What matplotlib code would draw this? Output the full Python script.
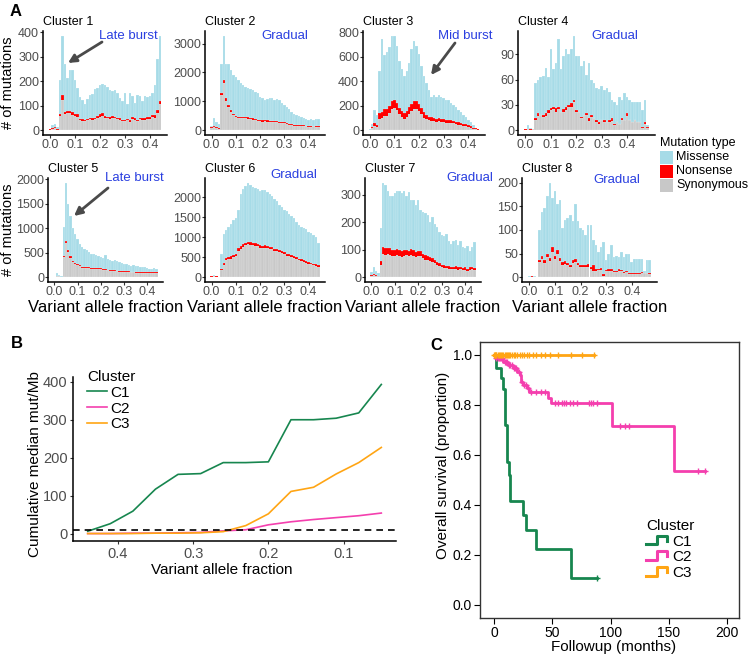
import numpy as np
import matplotlib
matplotlib.use("Agg")
import matplotlib.pyplot as plt
from matplotlib.lines import Line2D
from matplotlib.patches import Rectangle
from matplotlib.legend_handler import HandlerBase

plt.rcParams['font.family'] = ['Liberation Sans', 'DejaVu Sans']

# --- PANEL A: VAF histograms (bins of 0.01), total / synonymous / nonsense ---
tot1 = [5, 20, 25, 15, 206, 383, 271, 214, 247, 244, 206, 174, 136, 122, 109, 129, 142, 149, 170, 174,
        183, 190, 186, 176, 165, 160, 165, 150, 130, 118, 150, 105, 150, 140, 110, 145, 140, 120, 140, 135,
        140, 150, 185, 290, 385]
syn1 = [2, 5, 8, 3, 60, 125, 65, 70, 72, 62, 58, 55, 40, 38, 36, 40, 45, 42, 44, 50,
        55, 60, 52, 48, 46, 50, 48, 44, 40, 36, 38, 40, 35, 46, 42, 36, 44, 40, 42, 45,
        46, 55, 52, 72, 105]
non1 = [3, 4, 4, 2, 6, 18, 8, 10, 8, 12, 10, 10, 6, 8, 6, 4, 6, 8, 6, 8,
        10, 10, 8, 6, 8, 10, 6, 6, 8, 6, 4, 6, 8, 10, 8, 6, 6, 8, 6, 8,
        10, 6, 10, 12, 16]

tot2 = [140, 440, 300, 200, 2300, 3270, 2300, 2300, 2090, 1910, 1830, 1740, 1650, 1570, 1485, 1450, 1415, 1390, 1330, 1275,
        1160, 1100, 1045, 1065, 1100, 1100, 1045, 1090, 1045, 930, 870, 790, 720, 640, 580, 520, 490, 460, 440, 400,
        350, 395, 350, 400, 400]
syn2 = [80, 120, 95, 60, 1220, 1630, 1020, 790, 640, 525, 450, 420, 415, 415, 410, 405, 385, 370, 350, 330,
        310, 300, 305, 300, 290, 295, 290, 280, 265, 255, 245, 225, 195, 170, 160, 150, 145, 145, 140, 135,
        130, 125, 135, 120, 130]
non2 = [20, 30, 25, 20, 60, 110, 80, 70, 60, 55, 50, 50, 45, 45, 45, 45, 45, 40, 40, 40,
        40, 40, 40, 40, 40, 40, 40, 40, 35, 35, 35, 35, 35, 30, 30, 30, 30, 30, 30, 30,
        30, 30, 30, 30, 30]

tot3 = [10, 50, 165, 125, 480, 745, 610, 640, 675, 770, 767, 690, 565, 500, 440, 480, 550, 660, 730, 690,
        620, 525, 440, 385, 330, 275, 290, 275, 285, 275, 260, 250, 250, 220, 207, 193, 165, 150, 125, 110,
        83, 70, 40, 22, 14]
syn3 = [0, 15, 35, 25, 95, 100, 120, 120, 140, 175, 185, 165, 130, 110, 95, 110, 135, 155, 175, 170,
        155, 130, 100, 90, 80, 75, 72, 67, 72, 67, 64, 60, 60, 56, 56, 50, 45, 42, 37, 32,
        26, 20, 12, 7, 3]
non3 = [5, 15, 25, 20, 45, 50, 50, 55, 60, 65, 65, 60, 55, 50, 45, 50, 55, 60, 65, 65,
        60, 50, 45, 35, 30, 30, 28, 28, 28, 28, 26, 25, 25, 24, 22, 20, 20, 18, 18, 16,
        14, 12, 10, 8, 5]

tot4 = [2, 6, 3, 2, 56, 60, 63, 64, 74, 63, 96, 72, 80, 108, 72, 88, 96, 90, 96, 112,
        88, 88, 76, 82, 66, 80, 60, 56, 50, 49, 52, 48, 50, 45, 36, 34, 30, 40, 36, 44,
        40, 36, 34, 34, 34, 34, 24, 36, 6]
syn4 = [0, 1, 0, 1, 12, 17, 18, 16, 17, 21, 24, 25, 22, 25, 22, 22, 24, 27, 28, 33,
        22, 22, 14, 18, 18, 11, 16, 14, 10, 8, 12, 10, 10, 10, 11, 6, 10, 8, 12, 12,
        17, 12, 10, 12, 10, 10, 3, 8, 3]
non4 = [1, 1, 1, 0, 2, 3, 0, 2, 3, 3, 2, 3, 4, 3, 0, 3, 3, 3, 4, 3,
        2, 0, 2, 0, 2, 3, 2, 0, 2, 2, 0, 2, 0, 2, 3, 2, 0, 0, 2, 0,
        3, 0, 0, 0, 0, 0, 1, 2, 1]

tot5 = [14, 80, 55, 35, 1030, 1930, 1500, 1250, 1000, 890, 790, 685, 615, 580, 550, 515, 480, 465, 445, 425,
        410, 400, 445, 375, 355, 340, 350, 330, 310, 290, 275, 280, 260, 240, 250, 240, 220, 205, 215, 200,
        190, 170, 175, 190, 160]
syn5 = [5, 22, 17, 10, 415, 695, 520, 395, 315, 270, 250, 225, 197, 192, 187, 182, 177, 172, 172, 167,
        162, 157, 149, 139, 134, 129, 124, 119, 115, 110, 110, 105, 103, 100, 100, 97, 96, 94, 91, 91,
        86, 86, 86, 96, 91]
non5 = [5, 8, 8, 5, 25, 45, 40, 30, 25, 20, 20, 20, 18, 18, 18, 18, 18, 18, 18, 18,
        18, 18, 16, 16, 16, 16, 16, 16, 15, 15, 15, 15, 15, 15, 15, 15, 14, 14, 14, 14,
        14, 14, 14, 14, 14]

tot6 = [40, 60, 40, 17, 575, 1080, 1180, 1250, 1330, 1420, 1480, 1690, 2070, 2210, 2280, 2360, 2300, 2260, 2240, 2210,
        2150, 2190, 2180, 2130, 2070, 2025, 1960, 1900, 1815, 1755, 1690, 1645, 1590, 1535, 1480, 1390, 1310, 1250, 1225, 1200,
        1140, 1115, 1055, 995, 860]
syn6 = [15, 22, 15, 7, 170, 315, 435, 450, 465, 495, 520, 660, 715, 765, 795, 820, 805, 795, 785, 770,
        740, 730, 740, 730, 700, 695, 655, 655, 620, 605, 585, 540, 530, 500, 480, 460, 420, 405, 375, 360,
        335, 325, 300, 280, 255]
non6 = [5, 8, 5, 3, 40, 50, 55, 55, 55, 55, 55, 60, 60, 60, 65, 65, 65, 65, 65, 60,
        60, 60, 60, 60, 60, 55, 55, 55, 55, 55, 50, 50, 50, 50, 50, 45, 45, 45, 45, 45,
        45, 40, 40, 40, 40]

tot7 = [20, 37, 22, 15, 180, 343, 333, 312, 294, 294, 306, 312, 312, 306, 312, 294, 308, 281, 281, 263,
        281, 245, 238, 232, 226, 200, 220, 195, 183, 164, 152, 148, 158, 131, 121, 131, 136, 118, 133, 109,
        106, 115, 96, 109, 127]
syn7 = [5, 8, 5, 3, 44, 84, 80, 83, 81, 78, 76, 80, 78, 75, 78, 80, 76, 82, 78, 74,
        76, 76, 70, 64, 61, 58, 56, 50, 43, 40, 36, 34, 33, 31, 29, 29, 31, 28, 30, 26,
        28, 23, 28, 30, 26]
non7 = [3, 4, 3, 2, 15, 25, 25, 25, 24, 22, 22, 22, 22, 20, 20, 20, 20, 22, 20, 18,
        20, 18, 16, 16, 15, 14, 14, 12, 12, 10, 10, 10, 9, 9, 9, 9, 9, 8, 8, 8,
        8, 7, 8, 8, 8]

tot8 = [2, 3, 2, 1, 100, 139, 146, 171, 200, 168, 182, 154, 164, 104, 121, 125, 132, 118, 154, 118,
        104, 100, 89, 111, 111, 79, 68, 54, 64, 75, 36, 50, 68, 43, 46, 43, 54, 43, 50, 50,
        32, 39, 39, 39, 39, 14, 37, 37]
syn8 = [0, 1, 0, 1, 32, 38, 30, 42, 34, 54, 39, 49, 34, 26, 29, 26, 21, 30, 33, 26,
        21, 21, 21, 22, 17, 13, 14, 16, 16, 3, 13, 14, 14, 12, 12, 14, 14, 10, 12, 6,
        6, 6, 6, 6, 10, 8, 8, 6]
non8 = [1, 1, 1, 0, 4, 8, 6, 8, 6, 10, 6, 8, 6, 6, 6, 4, 4, 6, 6, 4,
        4, 4, 4, 6, 4, 12, 4, 2, 4, 4, 2, 4, 4, 2, 2, 4, 2, 2, 2, 2,
        2, 2, 2, 2, 2, 2, 2, 2]

cluster_names = ["Cluster 1", "Cluster 2", "Cluster 3", "Cluster 4",
                 "Cluster 5", "Cluster 6", "Cluster 7", "Cluster 8"]
pattern_labels = ["Late burst", "Gradual", "Mid burst", "Gradual",
                  "Late burst", "Gradual", "Gradual", "Gradual"]
yticks_a = [[0, 100, 200, 300, 400], [0, 1000, 2000, 3000], [0, 200, 400, 600, 800], [0, 30, 60, 90],
            [0, 500, 1000, 1500, 2000], [0, 500, 1000, 1500, 2000], [0, 100, 200, 300], [0, 50, 100, 150, 200]]
mut_types = ["Missense", "Nonsense", "Synonymous"]

# --- PANEL B: cumulative median mut/Mb ---
vaf_b = [0.44, 0.41, 0.38, 0.35, 0.32, 0.29, 0.26, 0.23, 0.20, 0.17, 0.14, 0.11, 0.08, 0.05]
cum_c1 = [6, 26, 59, 117, 156, 158, 187, 187, 189, 300, 300, 304, 318, 393]
cum_c2 = [0, 0, 1, 1, 2, 3, 7, 10, 23, 31, 37, 42, 47, 54]
cum_c3 = [0, 0, 0, 1, 1, 2, 5, 21, 52, 111, 122, 157, 187, 227]
threshold_b = 10

# --- PANEL C: Kaplan-Meier ---
km_c1_t = [2.0, 6.3, 7.7, 9.2, 11.2, 12.6, 14.0, 24.9, 27.7, 35.7, 65.7]
km_c1_s = [0.947, 0.907, 0.863, 0.72, 0.573, 0.52, 0.416, 0.36, 0.30, 0.225, 0.11]
km_c1_end = 88
km_c1_cens = [88]
km_c2_t = [1, 8, 12, 16, 20, 22, 23, 25, 28, 30, 46, 49, 101, 154]
km_c2_s = [0.987, 0.973, 0.96, 0.947, 0.933, 0.92, 0.893, 0.88, 0.867, 0.853, 0.827, 0.807, 0.716, 0.535]
km_c2_end = 181
km_c2_cens = [2, 3, 4, 5, 6, 7, 9, 10, 11, 13, 14, 15, 17, 18, 19, 21, 24, 26, 27, 29,
              32, 36, 40, 43.5, 52, 55, 58, 60, 62, 65, 68, 71, 81, 83, 85, 88, 108, 112, 116, 175, 181]
km_c3_t = []
km_c3_s = []
km_c3_end = 85.5
km_c3_cens = [0, 0.5, 1, 1.5, 2, 3, 4, 5, 6, 7, 8, 9, 10, 11, 12, 13, 14, 15, 17, 18,
              20, 22, 24, 26, 28, 30, 33, 36, 40, 44, 48, 55, 66, 75, 85.5]

# --- COLOURS ---
col_mis = "#a6dbe7"
col_non = "#ff0000"
col_syn = "#c8c8c8"
col_c1 = "#17864f"
col_c2 = "#f43fae"
col_c3 = "#ffa514"
col_note = "#2a3fe0"
col_tick = "#4d4d4d"

W, H = 750, 658
fig = plt.figure(figsize=(W / 100, H / 100), dpi=100)


def add_ax(l, t, r, b):
    return fig.add_axes([l / W, 1 - b / H, (r - l) / W, (b - t) / H])


def ftext(x, y, s, **kw):
    return fig.text(x / W, 1 - y / H, s, **kw)


def classic(ax, size):
    for s in ["top", "right"]:
        ax.spines[s].set_visible(False)
    for s in ["left", "bottom"]:
        ax.spines[s].set_linewidth(1.1)
        ax.spines[s].set_color("black")
    ax.tick_params(length=2, width=0.8, color="#333333", labelcolor=col_tick,
                   labelsize=size, pad=0.8)


# --- PANEL A ---
hist_data = [(tot1, syn1, non1), (tot2, syn2, non2), (tot3, syn3, non3), (tot4, syn4, non4),
             (tot5, syn5, non5), (tot6, syn6, non6), (tot7, syn7, non7), (tot8, syn8, non8)]
boxes = [(43, 31, 167, 135), (205, 31, 325, 135), (363, 31, 485, 135), (518, 31, 655, 135),
         (48, 178, 163, 282), (205, 178, 325, 282), (365, 178, 481, 282), (522, 178, 657, 282)]
note_pos = [(128, 36), (285, 36), (465, 36), (615, 36), (134, 178), (294, 175), (470, 178), (617, 180)]
arrows = {0: ((102, 42), (68, 63)), 2: ((455, 43), (431, 75)), 4: ((108, 188), (74, 216))}
sep = (1, 1, 1, 0.45)

for i, (tot, syn, non) in enumerate(hist_data):
    tot = np.array(tot, float)
    syn = np.array(syn, float)
    non = np.array(non, float)
    mis = np.clip(tot - syn - non, 0, None)
    bins = np.arange(len(tot)) * 0.01
    l, t, r, b = boxes[i]
    ax = add_ax(l, t, r, b)
    ax.bar(bins, syn, width=0.01, color=col_syn, edgecolor=sep, linewidth=0.3)
    ax.bar(bins, non, bottom=syn, width=0.01, color=col_non, linewidth=0)
    ax.bar(bins, mis, bottom=syn + non, width=0.01, color=col_mis, edgecolor=sep, linewidth=0.3)
    lo, hi = -0.005, bins[-1] + 0.005
    rng = hi - lo
    ax.set_xlim(lo - 0.05 * rng, hi + 0.05 * rng)
    ymax = tot.max()
    ax.set_ylim(-0.05 * ymax, 1.05 * ymax)
    ax.set_xticks([0, 0.1, 0.2, 0.3, 0.4])
    ax.set_xticklabels(["0.0", "0.1", "0.2", "0.3", "0.4"])
    ax.set_yticks(yticks_a[i])
    classic(ax, 9)
    ftext(l, t - 9, cluster_names[i], ha="left", va="center", fontsize=9)
    nx, ny = note_pos[i]
    ftext(nx, ny, pattern_labels[i], ha="center", va="center", fontsize=9.5, color=col_note)
    if i in arrows:
        (x0, y0), (x1, y1) = arrows[i]
        ax.annotate("", xy=(x1, H - y1), xytext=(x0, H - y0), xycoords="figure pixels",
                    textcoords="figure pixels",
                    arrowprops=dict(arrowstyle="-|>", color="#4a4a4a", lw=2, mutation_scale=12,
                                    shrinkA=0, shrinkB=0))
    if i >= 4:
        ftext((l + r) / 2, 307, "Variant allele fraction", ha="center", va="center", fontsize=12)

ftext(8, 83, "# of mutations", rotation=90, ha="center", va="center", fontsize=10.5)
ftext(8, 230, "# of mutations", rotation=90, ha="center", va="center", fontsize=10.5)

# legend for mutation type
ftext(660, 143, "Mutation type", ha="left", va="center", fontsize=9)
for k, (name, col) in enumerate(zip(mut_types, [col_mis, col_non, col_syn])):
    yc = 157 + 14 * k
    fig.add_artist(Rectangle((660 / W, 1 - (yc + 6.5) / H), 13 / W, 13 / H,
                             transform=fig.transFigure, facecolor=col, edgecolor="none"))
    ftext(676, yc, name, ha="left", va="center", fontsize=9)

# --- PANEL B ---
axb = add_ax(73, 377, 396, 541)
axb.plot(vaf_b, cum_c1, color=col_c1, lw=1.2, label="C1")
axb.plot(vaf_b, cum_c2, color=col_c2, lw=1.2, label="C2")
axb.plot(vaf_b, cum_c3, color=col_c3, lw=1.2, label="C3")
axb.axhline(threshold_b, color="black", lw=1.2, ls=(0, (4, 3)))
rng = max(vaf_b) - min(vaf_b)
axb.set_xlim(max(vaf_b) + 0.05 * rng, min(vaf_b) - 0.05 * rng)
ymax = max(cum_c1)
axb.set_ylim(-0.05 * ymax, 1.05 * ymax)
axb.set_xticks([0.4, 0.3, 0.2, 0.1])
axb.set_xticklabels(["0.4", "0.3", "0.2", "0.1"])
axb.set_yticks([0, 100, 200, 300, 400])
classic(axb, 10.5)
axb.tick_params(length=2.5, pad=1.5)
ftext(35, 464, "Cumulative median mut/Mb", rotation=90, ha="center", va="center", fontsize=11)
ftext(222, 570, "Variant allele fraction", ha="center", va="center", fontsize=11)
axb.legend(title="Cluster", loc="upper left", bbox_to_anchor=(87 / W, 1 - 370 / H),
           bbox_transform=fig.transFigure, frameon=False, fontsize=11, title_fontsize=11,
           handlelength=1.3, handletextpad=0.2, labelspacing=0.12, borderpad=0,
           borderaxespad=0, alignment="left")

# --- PANEL C ---
axc = add_ax(480, 342, 739, 618)


def km_xy(ev_t, ev_s, t_end):
    xs = np.concatenate([[0.0], ev_t, [t_end]])
    ys = np.concatenate([[1.0], ev_s, [ev_s[-1] if len(ev_s) else 1.0]])
    return xs, ys


def surv_at(ts, ev_t, ev_s):
    idx = np.searchsorted(np.array(ev_t, float), ts, side="right")
    return np.concatenate([[1.0], ev_s])[idx]


km_sets = [(km_c1_t, km_c1_s, km_c1_end, km_c1_cens, col_c1, "C1"),
           (km_c2_t, km_c2_s, km_c2_end, km_c2_cens, col_c2, "C2"),
           (km_c3_t, km_c3_s, km_c3_end, km_c3_cens, col_c3, "C3")]
handles = []
for ev_t, ev_s, t_end, cens, col, name in km_sets:
    xs, ys = km_xy(ev_t, ev_s, t_end)
    ln, = axc.step(xs, ys, where="post", color=col, lw=2)
    cs = np.array(cens, float)
    axc.plot(cs, surv_at(cs, ev_t, ev_s), ls="none", marker="+", ms=4.5, mew=1.0, color=col)
    handles.append(ln)

axc.set_xlim(-12, 210)
axc.set_ylim(-0.052, 1.052)
axc.set_xticks([0, 50, 100, 150, 200])
axc.set_yticks([0, 0.2, 0.4, 0.6, 0.8, 1.0])
axc.set_yticklabels(["0.0", "0.2", "0.4", "0.6", "0.8", "1.0"])
for s in axc.spines.values():
    s.set_linewidth(1.0)
    s.set_color("#333333")
axc.tick_params(length=4, width=0.8, labelsize=10, labelcolor="black", pad=2)
ftext(443, 465, "Overall survival (proportion)", rotation=90, ha="center", va="center", fontsize=11)
ftext(614, 647, "Followup (months)", ha="center", va="center", fontsize=11)


class StepHandler(HandlerBase):
    def create_artists(self, legend, orig_handle, xdescent, ydescent, width, height, fontsize, trans):
        xs = np.array([0, 0.5, 0.5, 1.0, 1.0]) * width - xdescent
        ys = np.array([0.1, 0.1, 0.9, 0.9, 0.45]) * height - ydescent
        return [Line2D(xs, ys, color=orig_handle.get_color(), lw=2.2, transform=trans)]


axc.legend(handles, ["C1", "C2", "C3"], title="Cluster", loc="upper left",
           bbox_to_anchor=(646 / W, 1 - 519 / H), bbox_transform=fig.transFigure, frameon=False,
           fontsize=11, title_fontsize=11, handlelength=1.4, handletextpad=0.35, labelspacing=0.1,
           borderpad=0, borderaxespad=0, alignment="left",
           handler_map={Line2D: StepHandler()})

# panel letters
ftext(10, 12, "A", ha="left", va="center", fontsize=12, fontweight="bold")
ftext(11, 343, "B", ha="left", va="center", fontsize=12, fontweight="bold")
ftext(430, 345, "C", ha="left", va="center", fontsize=12, fontweight="bold")

fig.savefig("out.png", dpi=100)
